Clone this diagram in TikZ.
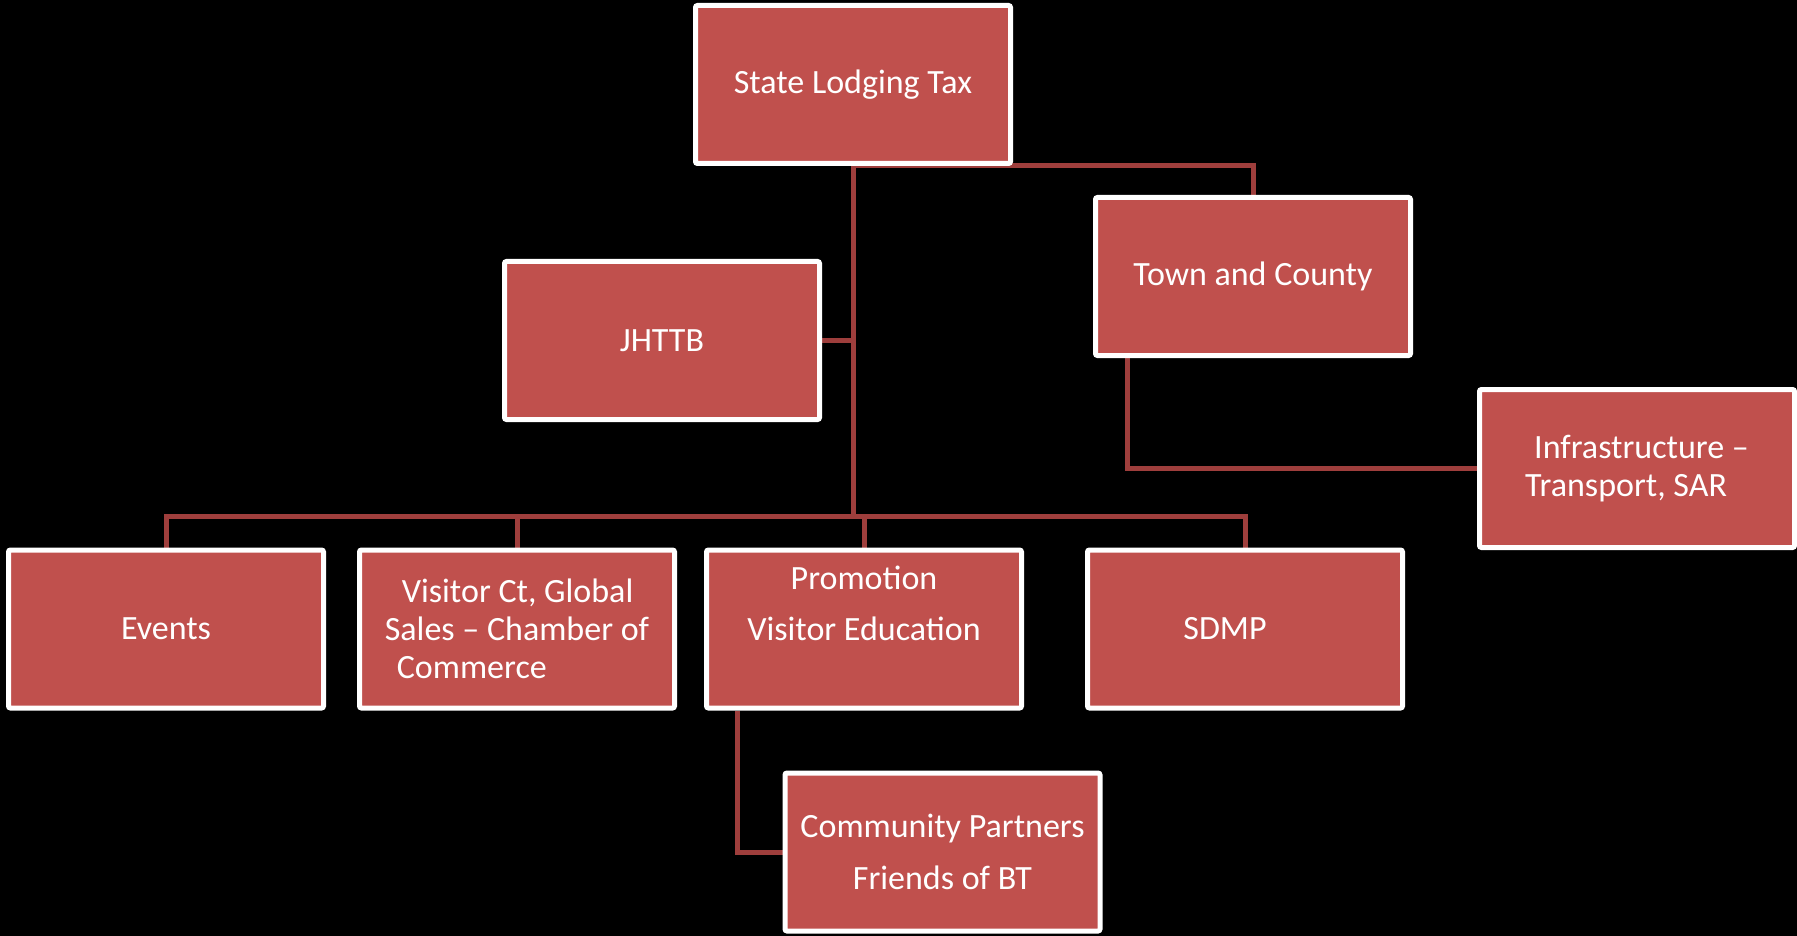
\documentclass[tikz,border=0pt]{standalone}
\usepackage{fontspec}
\setmainfont{Carlito}
\usepackage{tikz}
\usetikzlibrary{positioning}
\definecolor{boxred}{RGB}{192,80,77}
\definecolor{linkred}{RGB}{158,62,60}
\pgfdeclarelayer{bg}
\pgfdeclarelayer{lines}
\pgfsetlayers{bg,lines,main}

\begin{document}
\begin{tikzpicture}[
  box/.style={draw=white, fill=boxred, line width=5pt, rounded corners=2pt, text=white, align=center, minimum width=315pt, minimum height=158pt, inner sep=0pt, font=\fontsize{34}{38}\selectfont},
  link/.style={draw=linkred, line width=5pt},
  node distance=30pt and 31pt
]
\begin{pgfonlayer}{bg}
\fill[black] (0,0) rectangle (1797pt,-936pt);
\end{pgfonlayer}
\useasboundingbox (0,0) rectangle (1797pt,-936pt);

\node[box] (tax) at (853pt,-84.5pt) {State Lodging Tax};
\node[box, below right=29pt and 80pt of tax] (town) {Town and County};
\node[box, below right=29pt and 64pt of town, align=left] (infra) {\hspace*{9pt}Infrastructure –\\Transport, SAR};
\node[box, below=93pt of tax, xshift=-191pt] (jhttb) {JHTTB};
\node[box] (events) at (166pt,-629pt) {Events};
\node[box, right=31pt of events, align=left] (visitor) {\hspace*{17pt}Visitor Ct, Global\\Sales – Chamber of\\\hspace*{12pt}Commerce};
\node[box, right=27pt of visitor] (promo) {Promotion\\[13pt]Visitor Education\\[13pt]\mbox{}};
\node[box, right=61pt of promo] (sdmp) {SDMP\hspace*{40pt}};
\node[box, below=60pt of promo, xshift=78.5pt] (comm) {Community Partners\\[14pt]Friends of BT};

\begin{pgfonlayer}{lines}
\draw[link] (tax.south) -| (town.north);
\draw[link] (jhttb.east) -- (jhttb.east -| tax.south);
\foreach \kid in {events, visitor, promo, sdmp}
  \draw[link] (tax.south) |- ([yshift=31pt]\kid.north) -- (\kid.north);
\draw[link] ([xshift=34pt]town.south west) |- (infra.west);
\draw[link] ([xshift=33pt]promo.south west) |- (comm.west);
\end{pgfonlayer}
\end{tikzpicture}
\end{document}
